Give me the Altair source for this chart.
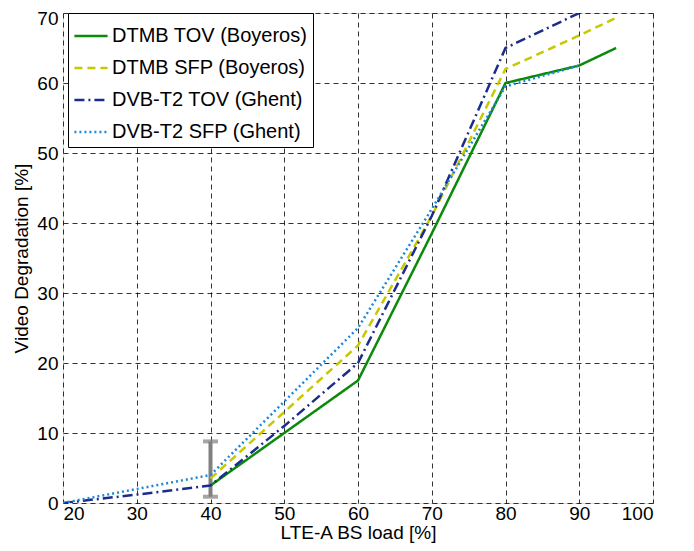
import altair as alt
import pandas as pd

series_names = ["DTMB TOV (Boyeros)", "DTMB SFP (Boyeros)", "DVB-T2 TOV (Ghent)", "DVB-T2 SFP (Ghent)"]
colors = ["#0a8a0a", "#c8c800", "#1c2c8c", "#1e88d8"]
dashes = [[1, 0], [8, 5], [10, 4, 2, 4], [2, 3]]

x_tov_b = [40, 50, 60, 70, 80, 90, 95]
y_tov_b = [2.5, 10.0, 17.5, 38.5, 60.0, 62.5, 65.0]
x_sfp_b = [40, 50, 60, 70, 80, 90, 95]
y_sfp_b = [3.5, 13.0, 22.5, 41.0, 62.0, 66.8, 69.3]
x_tov_g = [20, 30, 40, 50, 60, 70, 80, 90]
y_tov_g = [0.0, 1.2, 2.5, 11.0, 20.0, 41.0, 65.0, 70.0]
x_sfp_g = [20, 30, 40, 50, 60, 70, 80, 90]
y_sfp_g = [0.0, 2.0, 4.0, 14.5, 25.0, 42.0, 59.5, 62.5]

err_x = [40]
err_lo = [0.9]
err_hi = [8.8]

rows = []
for name, xs, ys in zip(series_names, [x_tov_b, x_sfp_b, x_tov_g, x_sfp_g], [y_tov_b, y_sfp_b, y_tov_g, y_sfp_g]):
    for i, (xv, yv) in enumerate(zip(xs, ys)):
        rows.append({"series": name, "load": xv, "deg": yv, "order": i})
df = pd.DataFrame(rows)

err = pd.DataFrame({"load": err_x, "lo": err_lo, "hi": err_hi})

FONT = "Liberation Sans"
FS = 19

xscale = alt.Scale(domain=[20, 100], nice=False, zero=False)
yscale = alt.Scale(domain=[0, 70], nice=False, zero=False)

xaxis = alt.Axis(values=list(range(20, 101, 10)), title="LTE-A BS load [%]", grid=True,
                 gridColor="#000000", gridDash=[5, 4], gridOpacity=0.8, ticks=False, domain=False,
                 labelFontSize=FS, labelColor="black", labelFont=FONT, labelPadding=1,
                 titleFontSize=FS, titleFont=FONT, titleColor="black", titleFontWeight="normal", titlePadding=0)
yaxis = alt.Axis(values=list(range(0, 71, 10)), title="Video Degradation [%]", grid=True,
                 gridColor="#000000", gridDash=[5, 4], gridOpacity=0.8, ticks=False, domain=False,
                 labelFontSize=FS, labelColor="black", labelFont=FONT, labelPadding=5,
                 labelOffset={"condition": {"test": "datum.value == 70", "value": 5}, "value": 0},
                 titleFontSize=FS, titleFont=FONT, titleColor="black", titleFontWeight="normal", titlePadding=5)

rule = alt.Chart(err).mark_rule(color="#808080", strokeWidth=4).encode(
    x=alt.X("load:Q", scale=xscale, axis=xaxis),
    y=alt.Y("lo:Q", scale=yscale, axis=yaxis),
    y2="hi:Q",
)
cap_lo = alt.Chart(err).mark_tick(color="#808080", orient="horizontal", size=15, thickness=4).encode(
    x=alt.X("load:Q", scale=xscale), y=alt.Y("lo:Q", scale=yscale))
cap_hi = alt.Chart(err).mark_tick(color="#808080", orient="horizontal", size=15, thickness=4).encode(
    x=alt.X("load:Q", scale=xscale), y=alt.Y("hi:Q", scale=yscale))

lines = alt.Chart(df).mark_line(strokeWidth=2.5, clip=True).encode(
    x=alt.X("load:Q", scale=xscale),
    y=alt.Y("deg:Q", scale=yscale),
    color=alt.Color("series:N", scale=alt.Scale(domain=series_names, range=colors),
                    legend=alt.Legend(title=None, orient="none", legendX=5, legendY=0,
                                      symbolType="stroke", symbolSize=1100, symbolStrokeWidth=2.5,
                                      labelFontSize=20, labelFont=FONT, labelColor="black",
                                      rowPadding=4, padding=5, strokeColor="black", fillColor="white",
                                      labelLimit=400, labelOffset=3)),
    strokeDash=alt.StrokeDash("series:N", scale=alt.Scale(domain=series_names, range=dashes)),
    detail="series:N",
    order="order:Q",
)

chart = alt.layer(rule, cap_lo, cap_hi, lines).properties(
    width=590, height=490,
    autosize=alt.AutoSizeParams(type="none"),
    padding={"left": 55, "top": 5, "right": 28, "bottom": 40},
).configure_view(stroke="black", strokeWidth=1.5).configure(background="white")

chart.save("out.html", embed_options={"renderer": "svg", "actions": False})
